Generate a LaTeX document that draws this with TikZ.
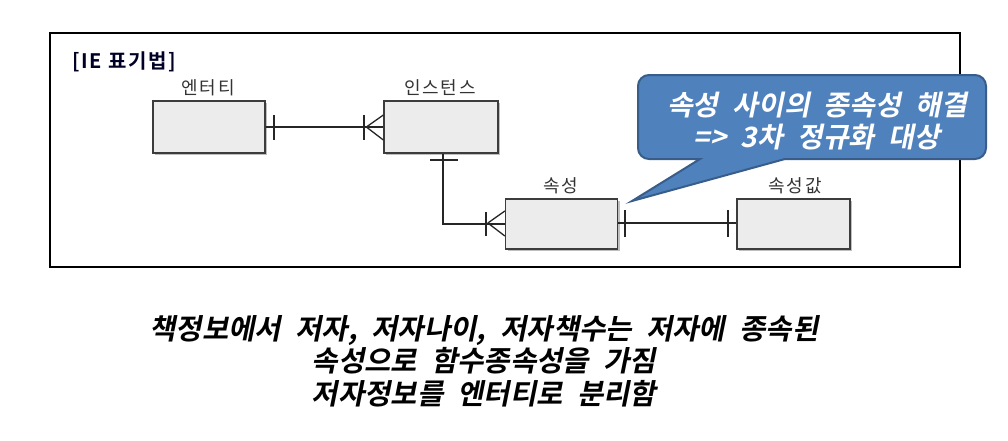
\documentclass[tikz,border=0pt]{standalone}
\usepackage{fontspec}
\usetikzlibrary{calc}
\newfontfamily\krfont{Noto Sans CJK KR}[LetterSpace=10]
\newfontfamily\krbold{Noto Sans CJK KR Bold}[LetterSpace=8]
\newfontfamily\krslant{Noto Sans CJK KR Bold}[FakeSlant=0.2,WordSpace=1.8]
\newfontfamily\krcall{Noto Sans CJK KR Bold}[FakeSlant=0.2,WordSpace=2.2]
\definecolor{boxfill}{HTML}{ECECEC}
\definecolor{boxline}{HTML}{3C3C3C}
\definecolor{callfill}{HTML}{4F81BD}
\definecolor{callline}{HTML}{385D8A}
\tikzset{
  erbox/.style={draw=boxline, line width=1.3, fill=boxfill, minimum width=112, minimum height=52, inner sep=0},
  shadowbox/.style={fill=black!25, draw=none, minimum width=112, minimum height=52, inner sep=0},
  lbl/.style={font=\krfont\fontsize{18}{21}\selectfont, text=black!80, inner sep=0},
  conn/.style={line width=1.3, draw=black!85},
  barline/.style={line width=2, draw=black!85},
  callout/.style={fill=callfill, draw=callline, line width=2},
}
\begin{document}
\begin{tikzpicture}[x=1pt,y=-1pt]
\useasboundingbox (0,0) rectangle (1008,440);
% frame
\draw[line width=1.2] (50,33) rectangle (960,267);
\node[anchor=west, inner sep=0, font=\krbold\fontsize{20}{23}\selectfont, text=black!85!blue] (title) at (72,62) {[IE 표기법]};
% shadows
\node[shadowbox] at (211,129) {};
\node[shadowbox, minimum width=114] at (443,129) {};
\node[shadowbox, minimum height=50] at (563.5,226) {};
\node[shadowbox, minimum width=113, minimum height=50] at (795.5,226) {};
% boxes
\node[erbox] (ent) at (209,127) {};
\node[erbox, minimum width=114] (inst) at (441,127) {};
\node[erbox, minimum height=50] (attr) at (561.5,224) {};
\node[erbox, minimum width=113, minimum height=50] (val) at (793.5,224) {};
% labels
\node[lbl] (entl) at (208,88) {엔터티};
\node[lbl] (instl) at (440,88) {인스턴스};
\node[lbl] (attrl) at (561,186) {속성};
\node[lbl] (vall) at (795,186) {속성값};
% entity - instance
\draw[conn] (ent.east) -- (inst.west);
\draw[barline] ($(ent.east)+(8,-12)$) -- ($(ent.east)+(8,13)$);
\draw[barline] ($(inst.west)+(-19,-12)$) -- ($(inst.west)+(-19,13)$);
\draw[conn] ($(inst.west)+(-17,0)$) -- ($(inst.west)+(0,-12)$);
\draw[conn] ($(inst.west)+(-17,0)$) -- ($(inst.west)+(0,13)$);
% instance - attribute
\coordinate (ib) at ($(inst.south)+(2,0)$);
\draw[conn] (ib) |- (attr.west);
\draw[barline] ($(ib)+(-13,6)$) -- ($(ib)+(15,6)$);
\draw[barline] ($(attr.west)+(-19,-12)$) -- ($(attr.west)+(-19,12)$);
\draw[conn] ($(attr.west)+(-17,-1)$) -- ($(attr.west)+(0,-13)$);
\draw[conn] ($(attr.west)+(-17,-1)$) -- ($(attr.west)+(0,12)$);
% attribute - value
\draw[conn] ($(attr.east)+(0,-1)$) -- ($(val.west)+(0,-1)$);
\draw[barline] ($(attr.east)+(7,-14)$) -- ($(attr.east)+(7,13)$);
\draw[barline] ($(val.west)+(-8,-14)$) -- ($(val.west)+(-8,13)$);
% callout
\draw[callout] (700,159) -- (632,201) -- (785,159) {[rounded corners=11] -- (986,159) -- (986,75) -- (638,75) -- (638,159)} -- cycle;
\node[align=center, text=white, inner sep=0, font=\krcall\fontsize{28}{32}\selectfont] (calltext) at (817,121) {속성 사이의 종속성 해결\\=> 3차 정규화 대상};
% bottom text
\node[align=center, text=black, inner sep=0, font=\krslant\fontsize{28.6}{32.5}\selectfont] (note) at (484,361) {책정보에서 저자, 저자나이, 저자책수는 저자에 종속된\\속성으로 함수종속성을 가짐\\저자정보를 엔터티로 분리함};
\end{tikzpicture}
\end{document}
